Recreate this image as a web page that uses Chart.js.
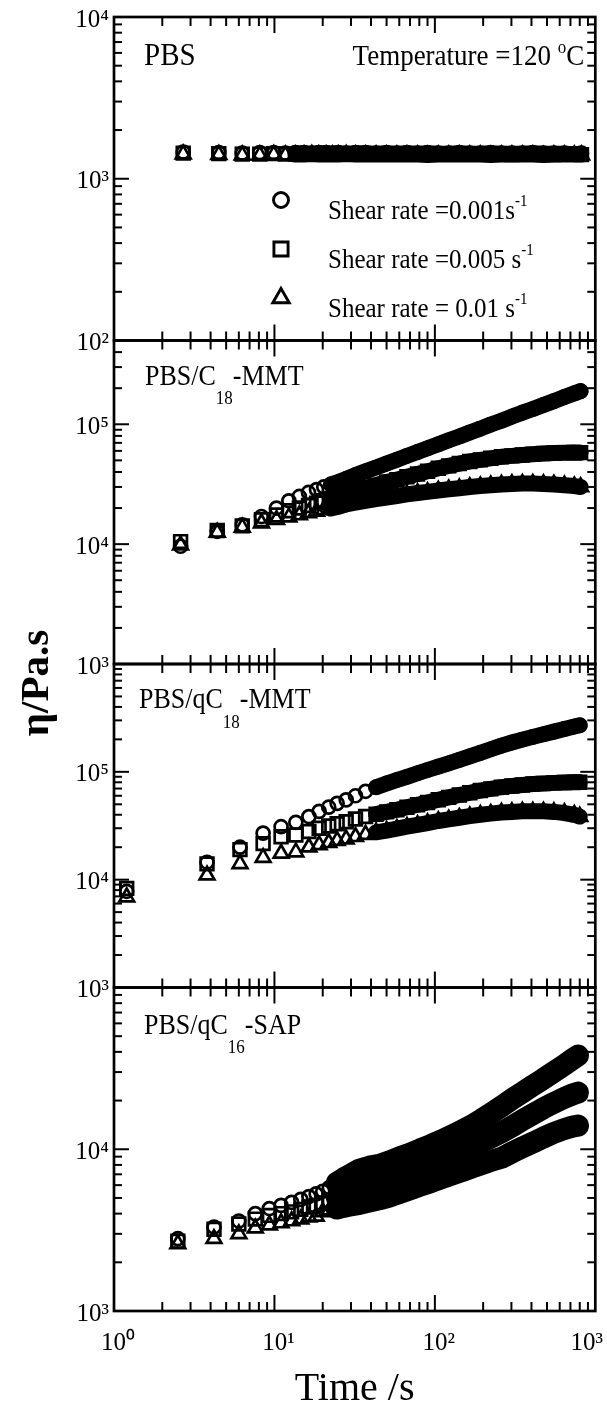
<!DOCTYPE html>
<html>
<head>
<meta charset="utf-8">
<script src="https://cdn.jsdelivr.net/npm/chart.js@4.4.1/dist/chart.umd.min.js"></script>
<style>
html,body{margin:0;padding:0;background:#ffffff;}
#box{position:relative;width:607px;height:1407px;background:#fff;}
canvas{display:block;}
</style>
</head>
<body>
<div id="box"><canvas id="chart" width="607" height="1407"></canvas></div>
<script>
// ================= DATA =================
const panelTitleParts = [
  ['PBS', '', ''],
  ['PBS/C', '18', '-MMT'],
  ['PBS/qC', '18', '-MMT'],
  ['PBS/qC', '16', '-SAP']
];
const seriesNames = ['Shear rate =0.001s', 'Shear rate =0.005 s', 'Shear rate = 0.01 s'];
const seriesUnitSup = '-1';
const temperatureText = 'Temperature =120 ';
const yAxisTitle = 'η/Pa.s';
const xAxisTitle = 'Time /s';

const xTickValues = [1, 10, 100, 1000];
const xTickLabels = ['10⁰', '10¹', '10²', '10³'];

const yTicksP1 = [100, 1000, 10000];
const yLabelsP1 = ['10²', '10³', '10⁴'];
const yTicksP2 = [1000, 10000, 100000];
const yLabelsP2 = ['10³', '10⁴', '10⁵'];
const yTicksP3 = [1000, 10000, 100000];
const yLabelsP3 = ['10³', '10⁴', '10⁵'];
const yTicksP4 = [1000, 10000];
const yLabelsP4 = ['10³', '10⁴'];
const yRangeP1 = [100, 10000];
const yRangeP2 = [1000, 500000];
const yRangeP3 = [1000, 1000000];
const yRangeP4 = [1000, 100000];

// Panel 1: PBS
const p1Time = [2.7, 4.5, 6.3, 8.1, 9.9, 11.7, 13.5, 15.3, 17.1, 18.9, 21, 23, 25, 28, 32, 37, 43, 50, 58, 67, 78, 90, 105, 122, 142, 165, 192, 223, 260, 302, 351, 408, 475, 552, 642, 740, 820];
const p1Circle = [1460,1450,1440,1450,1450,1440,1450,1450,1440,1450,1450,1440,1450,1440,1450,1450,1440,1450,1440,1450,1440,1450,1440,1440,1450,1440,1440,1450,1440,1440,1440,1450,1440,1440,1440,1430,1440];
const p1Square = [1440,1430,1420,1420,1430,1420,1420,1430,1420,1420,1420,1430,1420,1420,1420,1420,1430,1420,1420,1420,1420,1420,1430,1420,1420,1420,1420,1420,1420,1410,1420,1420,1420,1410,1420,1420,1410];
const p1Triangle = [1420,1410,1400,1400,1410,1400,1400,1400,1410,1400,1400,1400,1400,1410,1400,1400,1400,1400,1400,1400,1400,1390,1400,1400,1400,1400,1400,1390,1400,1400,1400,1400,1390,1400,1400,1400,1400];

// Panel 2: PBS/C18-MMT
const p2Time = [2.6, 4.4, 6.3, 8.3, 10.3, 12.3, 14.3, 16.3, 18.3, 20.3, 22.5, 25, 28, 32, 37, 43, 50, 58, 67, 78, 90, 105, 122, 142, 165, 192, 223, 260, 302, 351, 408, 475, 552, 642, 740, 810];
const p2Circle = [9600, 12800, 14500, 17000, 20000, 23000, 25000, 27000, 28500, 30000, 31500, 33000, 35000, 37700, 40500, 43600, 47000, 50600, 54500, 58800, 63000, 68000, 73500, 79000, 85500, 92000, 99500, 107000, 116000, 125000, 134000, 145000, 156000, 169000, 181000, 189000];
const p2Square = [10500, 13000, 14200, 16000, 17500, 19000, 20000, 21000, 22000, 23000, 24000, 25000, 26000, 27500, 29500, 31000, 33000, 34500, 36500, 38500, 40500, 43000, 45000, 47000, 49000, 50500, 52000, 53500, 54500, 55500, 56200, 57000, 57500, 58000, 58200, 58000];
const p2Triangle = [9800, 12500, 13800, 15000, 16000, 16800, 17500, 18200, 18800, 19300, 19800, 20500, 21500, 22200, 23000, 23800, 24500, 25200, 26000, 26700, 27300, 28000, 28700, 29300, 30000, 30500, 31000, 31500, 31800, 32000, 32000, 31800, 31500, 31000, 30500, 30000];

// Panel 3: PBS/qC18-MMT
const p3Time = [1.2, 3.8, 6.1, 8.5, 11, 13.6, 16.4, 19, 21.8, 24.6, 28, 32, 37, 43, 50, 58, 67, 78, 90, 105, 122, 142, 165, 192, 223, 260, 302, 351, 408, 475, 552, 642, 740, 800];
const p3Circle = [7800, 14500, 20000, 27000, 31000, 34000, 38500, 43000, 47000, 51000, 55000, 60000, 66000, 72000, 78000, 84000, 90000, 97000, 104000, 112000, 120000, 129000, 139000, 150000, 162000, 175000, 187000, 199000, 211000, 223000, 236000, 250000, 263000, 270000];
const p3Square = [8300, 14000, 19000, 21600, 25000, 26000, 28000, 30000, 31500, 33000, 34500, 36500, 38500, 40500, 42500, 44500, 47000, 49500, 52000, 55000, 58000, 61000, 64000, 67000, 69500, 72000, 74000, 75500, 77000, 78000, 79000, 79500, 80000, 80000];
const p3Triangle = [6900, 11000, 14000, 16000, 17500, 18000, 20000, 21000, 22000, 23000, 23800, 25000, 26200, 27500, 28500, 29700, 31000, 32200, 33500, 35000, 36200, 37500, 38800, 40000, 41000, 42000, 42500, 43000, 43000, 43000, 42500, 41500, 40000, 38500];

// Panel 4: PBS/qC16-SAP
const p4Time = [2.5, 4.2, 6.0, 7.6, 9.3, 11, 12.8, 14.6, 16.4, 18.2, 20, 22, 24.5, 27, 30, 34, 39, 45, 52, 60, 70, 81, 94, 109, 126, 146, 169, 196, 227, 263, 305, 353, 409, 474, 549, 636, 720, 780];
const p4Circle = [2800, 3300, 3600, 4000, 4300, 4500, 4700, 4900, 5100, 5300, 5500, 5800, 6200, 6600, 7000, 7500, 7800, 8000, 8400, 8900, 9400, 10000, 10600, 11300, 12100, 13000, 14000, 15300, 16800, 18500, 20500, 22500, 24800, 27200, 30000, 33000, 36000, 38000];
const p4Square = [2700, 3200, 3450, 3700, 3900, 4000, 4100, 4250, 4400, 4500, 4650, 4800, 5000, 5250, 5600, 5900, 6100, 6300, 6600, 6900, 7300, 7700, 8100, 8600, 9100, 9700, 10400, 11100, 11900, 12800, 13900, 15200, 16500, 17900, 19300, 20700, 21800, 22400];
const p4Triangle = [2600, 2800, 3000, 3250, 3400, 3500, 3600, 3700, 3800, 3850, 4100, 4200, 4300, 4400, 4500, 4600, 4750, 4900, 5100, 5350, 5650, 5950, 6250, 6600, 6950, 7300, 7700, 8100, 8500, 8900, 9600, 10300, 11000, 11800, 12600, 13300, 13800, 14000];

// ================= STYLE / ASSEMBLY =================
const FONT = '"Liberation Serif", "Times New Roman", serif';
Chart.defaults.font.family = FONT;
Chart.defaults.color = '#000';

const panels = [
  { id: 'y1', t: p1Time, series: [p1Circle, p1Square, p1Triangle], ticks: yTicksP1, labels: yLabelsP1, range: yRangeP1 },
  { id: 'y2', t: p2Time, series: [p2Circle, p2Square, p2Triangle], ticks: yTicksP2, labels: yLabelsP2, range: yRangeP2 },
  { id: 'y3', t: p3Time, series: [p3Circle, p3Square, p3Triangle], ticks: yTicksP3, labels: yLabelsP3, range: yRangeP3 },
  { id: 'y4', t: p4Time, series: [p4Circle, p4Square, p4Triangle], ticks: yTicksP4, labels: yLabelsP4, range: yRangeP4 }
];
const markerStyles = [
  { pointStyle: 'circle', radius: 6.5 },
  { pointStyle: 'rect', radius: 9 },
  { pointStyle: 'triangle', radius: 8.5 }
];
const panelStyles = [
  { bandFrom: 13, bandWidth: 15 },
  { bandFrom: 22, bandWidth: 16 },
  { bandFrom: 38, bandWidth: 16 },
  { bandFrom: 24, bandWidth: 22 }
];

const datasets = [];
panels.forEach((p, pi) => {
  p.series.forEach((vals, si) => {
    datasets.push({
      label: panelTitleParts[pi].join('') + ' ' + seriesNames[si] + '⁻¹',
      data: p.t.map((t, i) => ({ x: t, y: vals[i] })),
      xAxisID: 'x',
      yAxisID: p.id,
      showLine: true,
      borderColor: '#000',
      borderWidth: panelStyles[pi].bandWidth,
      borderCapStyle: 'round',
      borderJoinStyle: 'round',
      segment: {
        borderColor: c => (p.t[c.p0DataIndex] >= panelStyles[pi].bandFrom ? '#000' : 'rgba(0,0,0,0)')
      },
      pointStyle: markerStyles[si].pointStyle,
      pointRadius: markerStyles[si].radius,
      pointBorderWidth: 2.7,
      pointBorderColor: '#000',
      pointBackgroundColor: 'rgba(0,0,0,0)',
      tension: 0
    });
  });
});

function makeYScale(p, idx) {
  return {
    type: 'logarithmic',
    position: 'left',
    stack: 'panels',
    stackWeight: 1,
    weight: 4 - idx,
    min: p.range[0],
    max: p.range[1],
    grid: { display: false, drawTicks: false },
    border: { display: false },
    afterBuildTicks: s => { s.ticks = p.ticks.map(v => ({ value: v })); },
    afterFit: s => { s.width = 114; s.paddingTop = 0; s.paddingBottom = 0; },
    ticks: {
      autoSkip: false,
      padding: 5,
      labelOffset: 3,
      font: { size: 25, family: FONT },
      color: '#000',
      callback: v => { const k = p.ticks.indexOf(v); return k >= 0 ? p.labels[k] : ''; }
    }
  };
}

const scales = {
  x: {
    type: 'logarithmic',
    position: 'bottom',
    min: 1,
    max: 1000,
    grid: { display: false, drawTicks: false },
    border: { display: false },
    afterBuildTicks: s => { s.ticks = xTickValues.map(v => ({ value: v })); },
    afterFit: s => { s.height = 96; s.paddingLeft = 0; s.paddingRight = 0; },
    ticks: {
      autoSkip: false,
      maxRotation: 0,
      padding: 17,
      labelOffset: 4,
      font: { size: 25, family: FONT },
      color: '#000',
      callback: v => {
        const k = xTickValues.indexOf(v);
        if (k < 0) return '';
        return k === xTickValues.length - 1 ? xTickLabels[k] + '\u2003' : xTickLabels[k];
      }
    },
    title: {
      display: true,
      text: xAxisTitle,
      font: { size: 40, family: FONT, lineHeight: 0.9 },
      padding: { top: 0, bottom: 0 },
      color: '#000'
    }
  }
};
panels.forEach((p, i) => { scales[p.id] = makeYScale(p, i); });

// frame + inward ticks
const framePlugin = {
  id: 'frame',
  afterDatasetsDraw(chart) {
    const { ctx, chartArea: ca, scales: sc } = chart;
    const xs = sc.x;
    ctx.save();
    ctx.strokeStyle = '#000';
    ctx.lineCap = 'butt';
    const seg = (x1, y1, x2, y2) => { ctx.beginPath(); ctx.moveTo(x1, y1); ctx.lineTo(x2, y2); ctx.stroke(); };
    panels.forEach(p => {
      const ys = sc[p.id];
      const top = ys.top, bot = ys.bottom;
      ctx.lineWidth = 2;
      for (let e = 0; e <= 2; e++) {
        for (let k = 1; k <= 9; k++) {
          const v = k * Math.pow(10, e);
          if (v <= 1) continue;
          const px = xs.getPixelForValue(v);
          const L = k === 1 ? 16 : 9;
          seg(px, top, px, top + L);
          seg(px, bot, px, bot - L);
        }
      }
      const lo = Math.floor(Math.log10(p.range[0])), hi = Math.ceil(Math.log10(p.range[1]));
      for (let e = lo; e <= hi; e++) {
        for (let k = 1; k <= 9; k++) {
          const v = k * Math.pow(10, e);
          if (v <= p.range[0] * 1.0001 || v >= p.range[1] * 0.9999) continue;
          const py = ys.getPixelForValue(v);
          const L = k === 1 ? 15 : 8;
          seg(ca.left, py, ca.left + L, py);
          seg(ca.right, py, ca.right - L, py);
        }
      }
      ctx.lineWidth = 2.7;
      ctx.strokeRect(ca.left, top, ca.right - ca.left, bot - top);
    });
    ctx.restore();
  }
};

function drawSymbol(ctx, style, r, x, y) {
  ctx.beginPath();
  if (style === 'circle') {
    ctx.arc(x, y, r, 0, Math.PI * 2);
  } else if (style === 'rect') {
    const h = r * Math.SQRT1_2;
    ctx.rect(x - h, y - h, 2 * h, 2 * h);
  } else {
    const w = r * Math.sqrt(3) / 2;
    ctx.moveTo(x, y - r);
    ctx.lineTo(x + w, y + r / 2);
    ctx.lineTo(x - w, y + r / 2);
    ctx.closePath();
  }
  ctx.stroke();
}

function drawRich(ctx, x, y, parts, sy) {
  ctx.save();
  ctx.translate(x, y);
  ctx.scale(1, sy || 1);
  let cx = 0;
  for (const pt of parts) {
    if (!pt.t) continue;
    ctx.font = (pt.bold ? 'bold ' : '') + pt.size + 'px ' + FONT;
    ctx.fillText(pt.t, cx, pt.dy || 0);
    cx += ctx.measureText(pt.t).width;
  }
  ctx.restore();
  return cx;
}
function richWidth(ctx, parts) {
  let w = 0;
  for (const pt of parts) { if (!pt.t) continue; ctx.font = pt.size + 'px ' + FONT; w += ctx.measureText(pt.t).width; }
  return w;
}

const annotPlugin = {
  id: 'annot',
  afterDraw(chart) {
    const { ctx, chartArea: ca, scales: sc } = chart;
    ctx.save();
    ctx.fillStyle = '#000';
    ctx.strokeStyle = '#000';
    ctx.textBaseline = 'alphabetic';
    ctx.textAlign = 'left';
    const SY = 1.1;
    // Panel 1 labels
    const t1 = sc.y1.top;
    drawRich(ctx, ca.left + 30, t1 + 48, [{ t: panelTitleParts[0][0], size: 29 }], SY);
    const tParts = [{ t: temperatureText, size: 27 }, { t: 'o', size: 17, dy: -11 }, { t: 'C', size: 27 }];
    const tw = richWidth(ctx, tParts);
    drawRich(ctx, ca.right - 11 - tw, t1 + 48, tParts, SY);
    // legend
    const rows = [t1 + 202, t1 + 251, t1 + 300];
    ctx.lineWidth = 2.9;
    markerStyles.forEach((m, i) => {
      drawSymbol(ctx, m.pointStyle, m.radius + 1, ca.left + 167, rows[i] - 19);
      drawRich(ctx, ca.left + 214, rows[i], [{ t: seriesNames[i], size: 25 }, { t: seriesUnitSup, size: 15, dy: -12 }], SY);
    });
    // panel labels 2-4
    const offs = [null, { dx: 31, dy: 44 }, { dx: 25, dy: 44 }, { dx: 30, dy: 46 }];
    for (let i = 1; i < 4; i++) {
      const top = sc[panels[i].id].top;
      const parts = panelTitleParts[i];
      drawRich(ctx, ca.left + offs[i].dx, top + offs[i].dy,
        [{ t: parts[0], size: 26 }, { t: parts[1], size: 17, dy: 18 }, { t: parts[2], size: 26 }], SY);
    }
    // y-axis title
    ctx.save();
    ctx.translate(37, 683);
    ctx.rotate(-Math.PI / 2);
    ctx.font = 'bold 41px ' + FONT;
    ctx.textAlign = 'center';
    ctx.textBaseline = 'middle';
    ctx.fillText(yAxisTitle, 0, 0);
    ctx.restore();
    ctx.restore();
  }
};

new Chart(document.getElementById('chart'), {
  type: 'scatter',
  data: { datasets },
  options: {
    responsive: false,
    animation: false,
    events: [],
    layout: { padding: { top: 17, right: 6, bottom: 0, left: 0 } },
    plugins: { legend: { display: false }, tooltip: { enabled: false }, title: { display: false } },
    scales
  },
  plugins: [framePlugin, annotPlugin]
});
</script>
</body>
</html>
